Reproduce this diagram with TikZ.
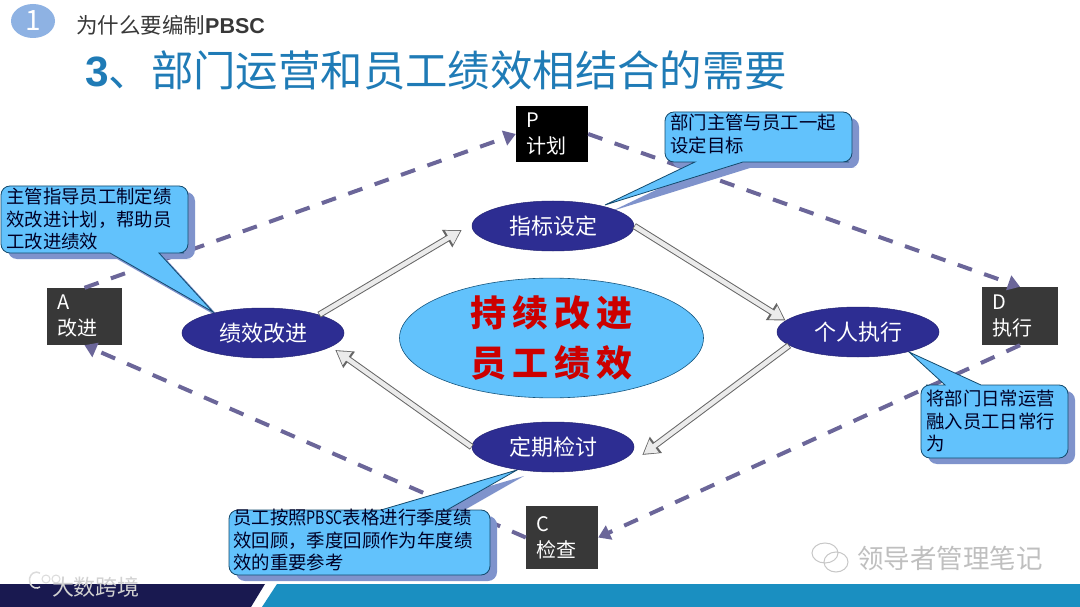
\documentclass[tikz,border=0pt]{standalone}
\usepackage{fontspec}
\usetikzlibrary{arrows.meta,shapes.geometric}
\setmainfont{Noto Sans CJK SC}
\newfontfamily\latinfont{Liberation Sans}
\newfontfamily\narrowfont[FakeStretch=0.78]{Noto Sans CJK SC}
\definecolor{bubbleblue}{HTML}{62C2FC}
\definecolor{bubbleshade}{HTML}{7F93CC}
\definecolor{ovalblue}{HTML}{2D2D92}
\definecolor{dashblue}{HTML}{6B6699}
\definecolor{titleblue}{HTML}{1F7BB6}
\tikzset{
  phasebox/.style={align=left,text=white,inner xsep=10pt,inner ysep=0pt,font=\fontsize{20}{26}\selectfont},
  oval/.style={ellipse,fill=ovalblue,draw=ovalblue!80!black,line width=.5pt,text=white,minimum width=162,minimum height=50,inner sep=0pt,font=\fontsize{22}{26}\selectfont},
  phaseline/.style={line width=4pt,draw=dashblue,dash pattern=on 15pt off 13pt,-{Triangle[length=12pt,width=15pt]}},
  flowarrow/.style={line width=6.5pt,draw=black!60,-{Triangle[length=17pt,width=19pt]},
    postaction={draw=black!8,line width=4.5pt,solid,-{Triangle[length=13pt,width=15pt]},shorten <=.7pt,shorten >=1.8pt}},
  bubbletext/.style={align=left,anchor=north west,inner sep=0pt,text=black!85!blue,font=\fontsize{18.4}{22.5}\selectfont},
}
\newcommand{\bubble}[1]{
  \fill[bubbleshade,shift={(7,6)}]#1;
  \filldraw[fill=bubbleblue,draw=titleblue!60!black,line width=.8pt]#1;
}
\begin{document}
\begin{tikzpicture}[x=1pt,y=-1pt]
\useasboundingbox[fill=white](0,0)rectangle(1080,607);
\fill[fill=black!85!blue!90!white,fill=ovalblue!55!black](0,584)--(265,584)--(251,607)--(0,607)--cycle;
\fill[fill=blue!0!white,fill=cyan!50!blue!55!gray,fill=titleblue!85!cyan](277,584)--(1080,584)--(1080,607)--(262,607)--cycle;
\filldraw[fill=none,draw=black!14,line width=1.5pt](40,587)arc(60:300:7 and 8);
\draw[black!14,line width=1pt](46,579)circle(4)(56,579)circle(4);
\node[text=black!18,font=\fontsize{22}{24}\selectfont](brand)at(96,587){大数跨境};
\draw[black!22,line width=1pt](825,553)ellipse(13 and 10)(836,562)ellipse(12 and 10);
\node[text=black!25,font=\fontsize{26.5}{28}\selectfont](mark)at(950,558){领导者管理笔记};
\node[ellipse,fill=cyan!55!blue!45!white,minimum width=44,minimum height=34,inner sep=0pt,text=white](num)at(33,21){\fontsize{28}{28}\selectfont 1};
\node[anchor=west,inner sep=0pt,text=black!78,font=\fontsize{21.5}{24}\selectfont](head)at(76,25){为什么要编制{\latinfont\bfseries PBSC}};
\node[anchor=west,inner sep=0pt,text=titleblue,font=\fontsize{42.4}{46}\selectfont](title)at(85,70){{\latinfont\bfseries 3}、部门运营和员工绩效相结合的需要};
\node[phasebox,fill=black,minimum width=72,minimum height=56,text width=52pt](plan)at(552,134){P\\计划};
\node[phasebox,fill=black!78,minimum width=76,minimum height=58,text width=56pt](exec)at(1020,316){D\\执行};
\node[phasebox,fill=black!78,minimum width=72,minimum height=63,text width=52pt](check)at(562,537.5){C\\检查};
\node[phasebox,fill=black!78,minimum width=75,minimum height=57,text width=55pt](act)at(84.5,316.5){A\\改进};
\draw[phaseline](act.north)--(plan.west);
\draw[phaseline](plan.east)--(exec.north);
\draw[phaseline](exec.south)--(check.east);
\draw[phaseline](check.west)--(act.south);
\bubble{(110,253)[rounded corners=9]--(100,253)--(1,253)--(1,186)--(188,186)--(188,253)--(175,253)[sharp corners]--(159,253)--(213,312)--cycle}
\bubble{(695,162)[rounded corners=9]--(685,162)--(665,162)--(665,112)--(852,112)--(852,162)--(840,162)[sharp corners]--(743,162)--(605,205)--cycle}
\bubble{(381,510)[rounded corners=9]--(300,510)--(229,510)--(229,575)--(490,575)--(490,510)--(470,510)[sharp corners]--(447,510)--(517,470)--cycle}
\bubble{(945,385)[rounded corners=9]--(935,385)--(921,385)--(921,458)--(1068,458)--(1068,385)--(1050,385)[sharp corners]--(981,385)--(909,352)--cycle}
\node[bubbletext](tipimprove)at(6,188){主管指导员工制定绩\\效改进计划，帮助员\\工改进绩效};
\node[bubbletext](tipgoal)at(670,114){部门主管与员工一起\\设定目标};
\node[bubbletext](tipreview)at(233,509){员工按照{\narrowfont PBSC}表格进行季度绩\\效回顾，季度回顾作为年度绩\\效的重要参考};
\node[bubbletext](tiprun)at(926,390){将部门日常运营\\融入员工日常行\\为};
\node[ellipse,fill=bubbleblue,draw=titleblue!70!black,line width=.6pt,minimum width=304,minimum height=118,inner sep=0pt,align=center,text=red!80!black,font=\fontsize{36}{50}\selectfont\bfseries](core)at(551.5,338){持\hspace{6pt}续\hspace{6pt}改\hspace{6pt}进\\员\hspace{6pt}工\hspace{6pt}绩\hspace{6pt}效};
\node[oval](setgoal)at(553,226){指标设定};
\node[oval](perform)at(858,332){个人执行};
\node[oval](review)at(553,447){定期检讨};
\node[oval](improve)at(263,333){绩效改进};
\draw[flowarrow](setgoal.east)--(perform.171);
\draw[flowarrow](perform.191)--([shift={(8,8)}]review.east);
\draw[flowarrow](review.west)--([shift={(-9,17)}]improve.east);
\draw[flowarrow](improve.18)--([shift={(-10,4)}]setgoal.west);
\end{tikzpicture}
\end{document}
